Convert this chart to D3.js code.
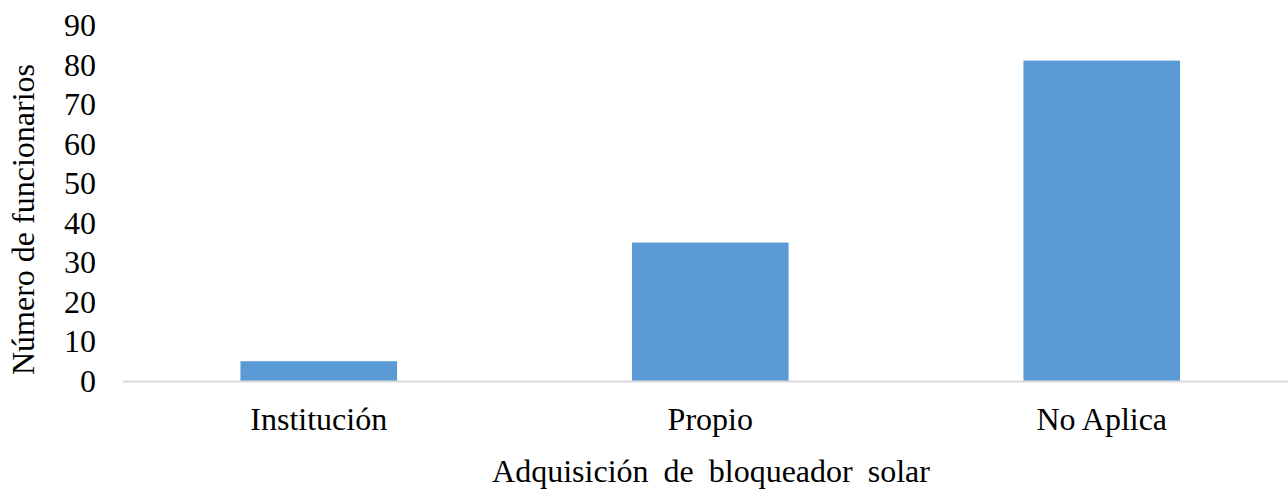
<!DOCTYPE html>
<html><head><meta charset="utf-8">
<script src="https://cdn.jsdelivr.net/npm/d3@7"></script>
<style>
html,body{margin:0;padding:0;background:#fff;}
text{font-family:"Liberation Serif","Times New Roman",serif;fill:#000;}
</style></head>
<body>
<script>
const categories = ["Institución", "Propio", "No Aplica"];
const values = [5, 35, 81];
const yTicks = [0, 10, 20, 30, 40, 50, 60, 70, 80, 90];
const yTitle = "Número de funcionarios";
const xTitle = "Adquisición de bloqueador solar";

const W = 1288, H = 490;
const svg = d3.select("body").append("svg").attr("width", W).attr("height", H);

const x = d3.scaleBand().domain(categories).range([123, 1297.5]).paddingInner(0.6).paddingOuter(0.3);
const y = d3.scaleLinear().domain([0, 90]).range([381, 25]);

svg.selectAll("rect.bar").data(values).enter().append("rect")
  .attr("class", "bar")
  .attr("x", (d, i) => x(categories[i]))
  .attr("width", x.bandwidth())
  .attr("y", d => y(d))
  .attr("height", d => y(0) - y(d))
  .attr("fill", "#5b9bd5");

// baseline
svg.append("line").attr("x1", 123).attr("x2", 1297.5).attr("y1", y(0) + 0.5).attr("y2", y(0) + 0.5)
  .attr("stroke", "#d9d9d9").attr("stroke-width", 2);

// y tick labels
svg.selectAll("text.yt").data(yTicks).enter().append("text")
  .attr("class", "yt")
  .attr("x", 96).attr("y", d => y(d) + 11)
  .attr("text-anchor", "end").attr("font-size", 32)
  .text(d => d);

// x category labels
svg.selectAll("text.xt").data(categories).enter().append("text")
  .attr("class", "xt")
  .attr("x", d => x(d) + x.bandwidth() / 2).attr("y", 430)
  .attr("text-anchor", "middle").attr("font-size", 32)
  .text(d => d);

// axis titles
svg.append("text").attr("x", 711).attr("y", 482).attr("text-anchor", "middle").attr("font-size", 32)
  .style("word-spacing", "7px").text(xTitle);
svg.append("text").attr("transform", "translate(34,219.5) rotate(-90)").attr("text-anchor", "middle").attr("font-size", 32).text(yTitle);
</script>
</body></html>
